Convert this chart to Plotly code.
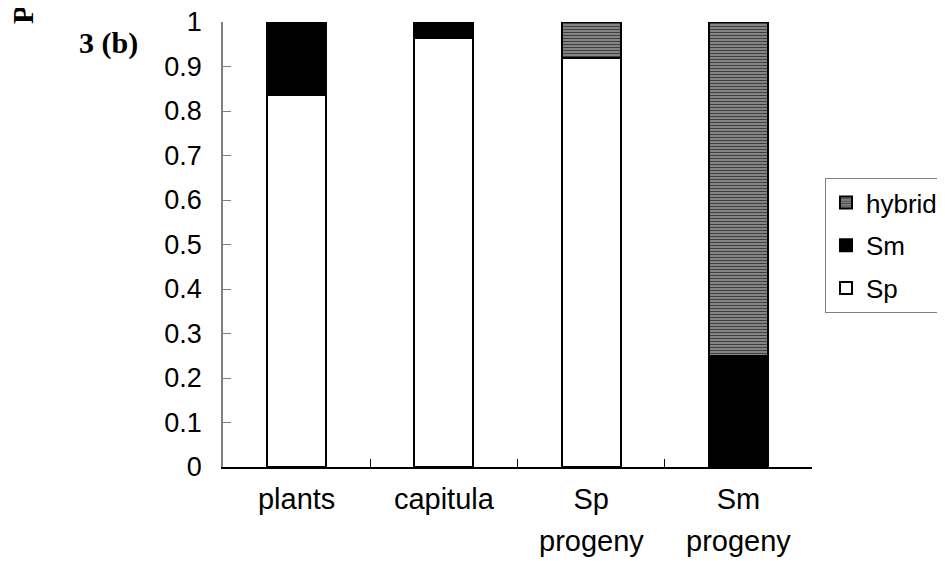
import plotly.graph_objects as go

categories = ["plants", "capitula", "Sp\nprogeny", "Sm\nprogeny"]
sp_values = [0.835, 0.965, 0.92, 0.0]
sm_values = [0.165, 0.035, 0.0, 0.25]
hybrid_values = [0.0, 0.0, 0.08, 0.75]
y_ticks = [0, 0.1, 0.2, 0.3, 0.4, 0.5, 0.6, 0.7, 0.8, 0.9, 1]

first_lines = [c.split("\n")[0] for c in categories]
cat_keys = [c.replace("\n", " ") for c in categories]

FONT = "Liberation Sans, Arial, sans-serif"
SERIF = "Liberation Serif, Times New Roman, serif"
FS = 27
FSX = 29
FSL = 26

# page body adds an 8px offset; positions below are in figure pixels
W, H = 929, 551
L, T, PW, PH = 215, 14, 589, 445
BOTTOM = T + PH


def px(xp):
    return (xp - L) / PW


def py(yp):
    return (BOTTOM - yp) / PH


fig = go.Figure()
fig.add_trace(go.Bar(
    x=cat_keys, y=sp_values, name="Sp", legendrank=3, legendgroup="sp",
    marker=dict(color="white", line=dict(color="black", width=2)),
    width=0.4,
))
fig.add_trace(go.Bar(
    x=cat_keys, y=sm_values, name="Sm", legendrank=2, legendgroup="sm",
    marker=dict(color="black", line=dict(color="black", width=2)),
    width=0.4,
))
fig.add_trace(go.Bar(
    x=cat_keys, y=hybrid_values, name="hybrid", legendrank=1, legendgroup="hy",
    marker=dict(color="#8a8a8a", line=dict(color="black", width=2),
                pattern=dict(shape="-", fgcolor="#404040", bgcolor="#9a9a9a",
                             size=3, solidity=0.5, fillmode="replace")),
    width=0.4,
))

annotations = []
for key, c in zip(cat_keys, categories):
    lines = c.split("\n")
    if len(lines) > 1:
        annotations.append(dict(
            x=key, xref="x", y=py(533), yref="paper", text=lines[1],
            showarrow=False, yanchor="middle", xanchor="center",
            font=dict(family=FONT, size=FSX, color="black")))

annotations.append(dict(
    x=px(100), xref="paper", y=py(35), yref="paper",
    text="<b>3 (b)</b>", showarrow=False, xanchor="center", yanchor="middle",
    font=dict(family=SERIF, size=30, color="black")))
annotations.append(dict(
    x=px(14), xref="paper", y=py(7), yref="paper",
    text="<b>P</b>", showarrow=False, xanchor="center", yanchor="middle",
    textangle=-90, font=dict(family=SERIF, size=30, color="black")))

fig.update_layout(
    width=W, height=H,
    margin=dict(l=L, r=W - L - PW, t=T, b=H - BOTTOM, autoexpand=False),
    paper_bgcolor="white", plot_bgcolor="white",
    barmode="stack",
    font=dict(family=FONT, size=FS, color="black"),
    showlegend=True,
    legend=dict(
        x=px(817), xanchor="left",
        y=py(170), yanchor="top",
        traceorder="grouped", tracegroupgap=6,
        bordercolor="#808080", borderwidth=1, bgcolor="white",
        font=dict(family=FONT, size=FSL, color="black"),
        itemwidth=30,
    ),
    xaxis=dict(
        type="category", range=[-0.5, 3.5], automargin=False,
        tickmode="array", tickvals=cat_keys, ticktext=first_lines,
        tickson="boundaries", ticks="inside", ticklen=8, tickcolor="black",
        showline=True, linecolor="black", linewidth=1.5,
        showgrid=False, zeroline=False, ticklabelstandoff=5,
        ticklabeloverflow="allow",
        tickfont=dict(family=FONT, size=FSX, color="black"),
    ),
    yaxis=dict(
        range=[0, 1], tickmode="array", tickvals=y_ticks, automargin=False,
        ticktext=[f"{v:g}" for v in y_ticks],
        ticks="inside", ticklen=8, tickcolor="#808080",
        showline=True, linecolor="#808080", linewidth=1.5,
        showgrid=False, zeroline=False, ticklabelstandoff=14,
        ticklabeloverflow="allow",
        tickfont=dict(family=FONT, size=FS, color="black"),
    ),
    annotations=annotations,
)

fig.write_html("out.html")
